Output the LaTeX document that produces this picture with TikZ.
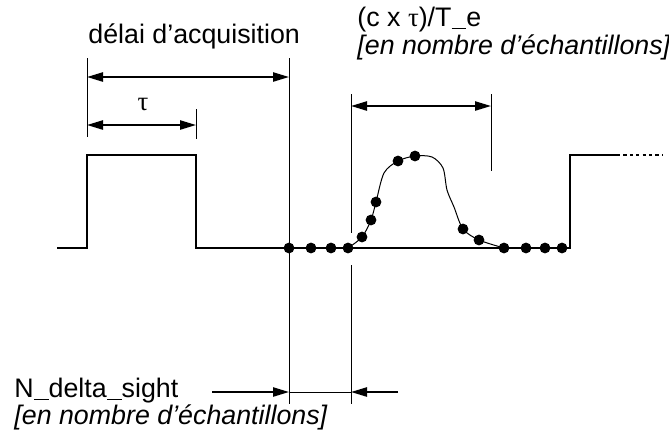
\documentclass[tikz,border=0pt]{standalone}
\usepackage{fontspec}
\setmainfont{Liberation Sans}
\newfontfamily\grk{Liberation Serif}
\newcommand\usc{\rule[-.13em]{.556em}{.055em}}
\usetikzlibrary{arrows.meta}

\begin{document}
\begin{tikzpicture}[x=.5pt,y=-.5pt,
  lbl/.style={font=\fontsize{13.4}{15}\selectfont,inner sep=0pt,anchor=base west},
  ilbl/.style={lbl,font=\fontsize{13.4}{15}\selectfont\itshape},
  dot/.style={circle,fill,inner sep=0pt,minimum size=5.4pt},
  sig/.style={line width=1pt},
  aux/.style={line width=.5pt},
  dim/.style={line width=.9pt,{Triangle[length=8pt,width=4.6pt]}-{Triangle[length=8pt,width=4.6pt]}},
  half/.style={line width=.9pt,-{Triangle[length=8pt,width=4.6pt]}}]
\useasboundingbox (0,0) rectangle (669,434);
% labels
\node[lbl] (tacq) at (88,43) {délai d’acquisition};
\node[lbl,anchor=base] (ttau) at (143,110) {\grk τ};
\node[lbl] (tcte) at (357,26) {(c x {\grk τ})/T\usc e};
\node[ilbl] (tcte2) at (357,54) {[en nombre d’échantillons]};
\node[lbl] (tnds) at (14,397) {N\usc delta\usc sight};
\node[ilbl] (tnds2) at (14,424) {[en nombre d’échantillons]};
% signal
\draw[sig] (57,248) -- (87,248) -- (87,155) -- (196,155) -- (196,248) -- (570,248) -- (570,155) -- (617,155);
\draw[sig,dash pattern=on 1.6pt off 1.6pt] (617,155) -- (663,155);
% samples
\node[dot] (d1) at (289,248) {};
\node[dot] (d2) at (311,248) {};
\node[dot] (d3) at (331,248) {};
\node[dot] (d4) at (348,248) {};
\node[dot] (d5) at (362,237) {};
\node[dot] (d6) at (371,220) {};
\node[dot] (d7) at (376,202) {};
\node[dot] (d8) at (398,161) {};
\node[dot] (d9) at (415,156) {};
\node[dot] (d10) at (463,229) {};
\node[dot] (d11) at (479,240) {};
\node[dot] (d12) at (504,248) {};
\node[dot] (d13) at (526,248) {};
\node[dot] (d14) at (545,248) {};
\node[dot] (d15) at (562,248) {};
\draw[aux] plot[smooth,tension=.5] coordinates {(d4.center) (d5.center) (d6.center) (d7.center) (384,173) (d8.center) (d9.center) (432,157) (443,168) (447,190) (454,207) (d10.center) (d11.center) (d12.center)};
% guides
\coordinate (g1t) at (87,58);   \coordinate (g1b) at (87,137);
\coordinate (g2t) at (196,109); \coordinate (g2b) at (196,139);
\coordinate (g3t) at (289,58);  \coordinate (g3b) at (289,404);
\coordinate (g4t) at (351,94);  \coordinate (g4m) at (351,233);
\coordinate (g4n) at (351,265); \coordinate (g4b) at (351,404);
\coordinate (g5t) at (491,94);  \coordinate (g5b) at (491,171);
\draw[aux] (g1t) -- (g1b);
\draw[aux] (g2t) -- (g2b);
\draw[aux] (g3t) -- (g3b);
\draw[aux] (g4t) -- (g4m);
\draw[aux] (g4n) -- (g4b);
\draw[aux] (g5t) -- (g5b);
% dimensions
\coordinate (a1) at (87,77);   \coordinate (a2) at (289,77);
\coordinate (b1) at (87,125);  \coordinate (b2) at (196,125);
\coordinate (c1) at (351,106); \coordinate (c2) at (491,106);
\coordinate (e0) at (212,392); \coordinate (e1) at (289,392);
\coordinate (e2) at (351,392); \coordinate (e3) at (398,392);
\draw[dim] (a1) -- (a2);
\draw[dim] (b1) -- (b2);
\draw[dim] (c1) -- (c2);
\draw[half] (e0) -- (e1);
\draw[aux] (e1) -- (e2);
\draw[half] (e3) -- (e2);
\end{tikzpicture}
\end{document}
